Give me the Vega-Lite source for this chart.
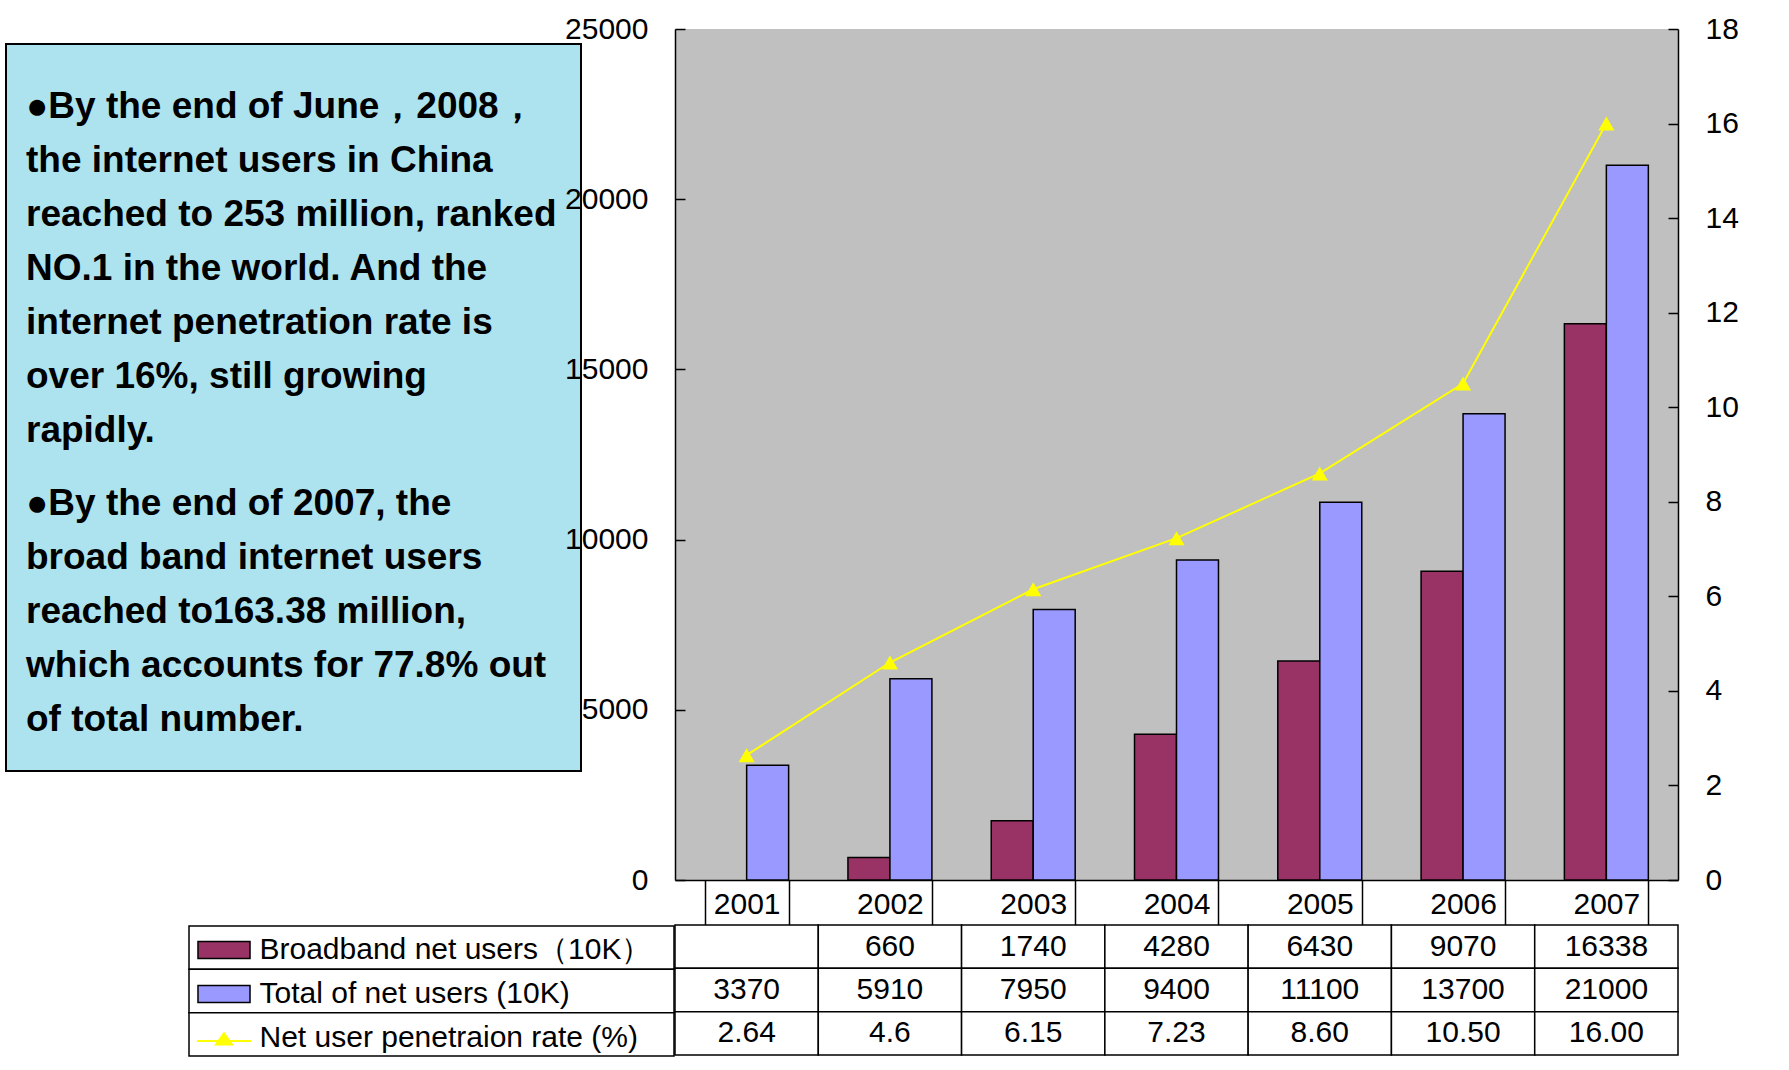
{
  "$schema": "https://vega.github.io/schema/vega-lite/v6.json",
  "padding": {"left": 5, "top": 14, "right": 0, "bottom": 0},
  "background": "white",
  "config": {
    "view": {"stroke": null},
    "axis": {"grid": false, "labelFont": "Liberation Sans", "labelFontSize": 30, "labelColor": "black", "domainColor": "black", "domainWidth": 1.5, "tickColor": "black", "tickWidth": 1.5},
    "text": {"font": "Liberation Sans", "color": "black"}
  },
  "datasets": {
    "main": [
      {"year": "2001", "total": 3370, "rate": 2.64, "rateText": "2.64"},
      {"year": "2002", "broadband": 660, "total": 5910, "rate": 4.6, "rateText": "4.6"},
      {"year": "2003", "broadband": 1740, "total": 7950, "rate": 6.15, "rateText": "6.15"},
      {"year": "2004", "broadband": 4280, "total": 9400, "rate": 7.23, "rateText": "7.23"},
      {"year": "2005", "broadband": 6430, "total": 11100, "rate": 8.6, "rateText": "8.60"},
      {"year": "2006", "broadband": 9070, "total": 13700, "rate": 10.5, "rateText": "10.50"},
      {"year": "2007", "broadband": 16338, "total": 21000, "rate": 16, "rateText": "16.00"}
    ]
  },
  "spacing": -111,
  "hconcat": [
    {
      "spacing": 0,
      "bounds": "flush",
      "vconcat": [
        {"width": 575, "height": 15, "data": {"values": [{}]}, "mark": {"type": "text", "text": ""}},
        {
          "width": 575,
          "height": 727,
          "view": {"fill": "#ADE3EF", "stroke": "black", "strokeWidth": 2},
          "data": {"values": [
            {"para": "p1", "text": "●By the end of June，2008，\nthe internet users in China\nreached to 253 million, ranked\nNO.1 in the world. And the\ninternet penetration rate is\nover 16%, still growing\nrapidly."},
            {"para": "p2", "text": "●By the end of 2007, the\nbroad band internet users\nreached to163.38 million,\nwhich accounts for 77.8% out\nof total number."}
          ]},
          "mark": {"type": "text", "align": "left", "baseline": "top", "font": "Liberation Sans", "fontWeight": "bold", "fontSize": 37, "lineHeight": 54, "lineBreak": "\n", "dx": 20, "color": "black"},
          "encoding": {
            "x": {"datum": 0, "type": "quantitative", "scale": {"domain": [0, 1]}, "axis": null},
            "y": {"field": "para", "type": "nominal", "axis": null, "scale": {"type": "point", "padding": 0.4156, "align": 0.1355}},
            "text": {"field": "text", "type": "nominal"}
          }
        },
        {"width": 575, "height": 155, "data": {"values": [{}]}, "mark": {"type": "text", "text": ""}},
        {
          "spacing": 0,
          "bounds": "flush",
          "hconcat": [
            {"width": 183, "height": 130, "data": {"values": [{}]}, "mark": {"type": "text", "text": ""}},
            {
              "width": 485,
              "height": 130,
              "data": {"values": [{"row": "broadband"}, {"row": "total"}, {"row": "rate"}]},
              "encoding": {
                "y": {"field": "row", "type": "nominal", "axis": null, "scale": {"domain": ["broadband", "total", "rate"], "paddingInner": 0, "paddingOuter": 0}}
              },
              "layer": [
                {"mark": {"type": "rect", "fill": "white", "stroke": "black", "strokeWidth": 1.5}},
                {
                  "mark": {"type": "point", "filled": true, "opacity": 0},
                  "encoding": {
                    "color": {"field": "row", "type": "nominal",
                      "scale": {"domain": ["broadband", "total", "rate"], "range": ["#993366", "#9999FF", "#FFFF00"]},
                      "legend": {
                        "orient": "none", "legendX": 203, "legendY": 906, "title": null, "direction": "vertical", "padding": 0,
                        "symbolType": "M-3.06,-1H3.06V1H-3.06Z", "symbolSize": 289, "symbolStrokeColor": "black", "symbolStrokeWidth": 1.5, "symbolOpacity": 1,
                        "labelFont": "Liberation Sans", "labelFontSize": 30, "labelColor": "black", "labelLimit": 0, "labelOffset": 20.5, "rowPadding": 14,
                        "labelExpr": "datum.value === 'broadband' ? 'Broadband net users（10K）' : datum.value === 'total' ? 'Total of net users (10K)' : 'Net user penetraion rate (%)'",
                        "encode": {"symbols": {"update": {
                          "shape": {"signal": "datum.value === 'rate' ? 'M-3.18,0.35H3.18M0,-0.55L0.94,0.75L-0.94,0.75Z' : 'M-3.06,-1H3.06V1H-3.06Z'"},
                          "stroke": {"signal": "datum.value === 'rate' ? '#FFFF00' : 'black'"},
                          "strokeWidth": {"signal": "datum.value === 'rate' ? 2 : 1.5"},
                          "opacity": {"value": 1}
                        }}}
                      }
                    }
                  }
                }
              ]
            }
          ]
        }
      ]
    },
    {
      "spacing": 45,
      "bounds": "flush",
      "vconcat": [
        {
          "width": 1003,
          "height": 851,
          "view": {"fill": "#C0C0C0", "stroke": null},
          "data": {"name": "main"},
          "encoding": {
            "x": {"field": "year", "type": "nominal", "scale": {"paddingInner": 0.414, "paddingOuter": 0.207},
                  "axis": {"title": null, "labelAngle": 0, "tickBand": "extent", "tickSize": 45, "labelPadding": -21, "labelBaseline": "middle"}}
          },
          "layer": [
            {
              "transform": [{"fold": ["broadband", "total"], "as": ["series", "users"]}, {"filter": "isValid(datum.users)"}],
              "mark": {"type": "bar", "stroke": "black", "strokeWidth": 1.5},
              "encoding": {
                "xOffset": {"field": "series", "type": "nominal", "scale": {"domain": ["broadband", "total"]}},
                "y": {"field": "users", "type": "quantitative", "scale": {"domain": [0, 25000]},
                      "axis": {"title": null, "orient": "left", "values": [0, 5000, 10000, 15000, 20000, 25000], "format": "d", "tickSize": -10, "labelPadding": 37, "labelFlush": false}},
                "color": {"field": "series", "type": "nominal",
                  "scale": {"domain": ["broadband", "total"], "range": ["#993366", "#9999FF"]},
                  "legend": null
                }
              }
            },
            {
              "mark": {"type": "line", "color": "#FFFF00", "strokeWidth": 2, "point": {"shape": "triangle-up", "size": 260, "filled": true, "color": "#FFFF00"}},
              "encoding": {
                "y": {"field": "rate", "type": "quantitative", "scale": {"domain": [0, 18]},
                      "axis": {"title": null, "orient": "right", "values": [0, 2, 4, 6, 8, 10, 12, 14, 16, 18], "tickSize": -10, "labelPadding": 37, "labelFlush": false}}
              }
            }
          ],
          "resolve": {"scale": {"y": "independent"}}
        },
        {
          "width": 1003,
          "height": 130,
          "data": {"name": "main"},
          "transform": [{"fold": ["broadband", "total", "rateText"], "as": ["row", "value"]}],
          "encoding": {
            "x": {"field": "year", "type": "nominal", "axis": null, "scale": {"paddingInner": 0, "paddingOuter": 0}},
            "y": {"field": "row", "type": "nominal", "axis": null, "scale": {"domain": ["broadband", "total", "rateText"], "paddingInner": 0, "paddingOuter": 0}}
          },
          "layer": [
            {"mark": {"type": "rect", "fill": "white", "stroke": "black", "strokeWidth": 1.5}},
            {
              "transform": [{"filter": "isValid(datum.value)"}],
              "mark": {"type": "text", "fontSize": 30, "font": "Liberation Sans", "color": "black", "baseline": "middle"},
              "encoding": {"text": {"field": "value", "type": "nominal"}}
            }
          ]
        }
      ]
    }
  ]
}
